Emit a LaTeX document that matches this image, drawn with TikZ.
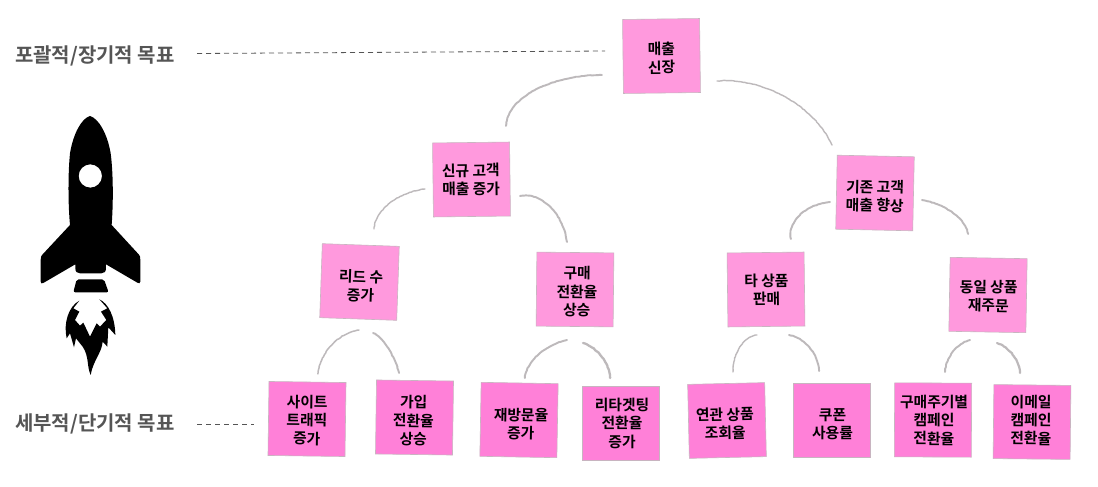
\documentclass[tikz,border=0pt]{standalone}
\usepackage{fontspec}
\setmainfont{Noto Sans CJK KR}[BoldFont={* Bold}]
\usetikzlibrary{decorations.pathmorphing,calc}
\definecolor{noteA}{HTML}{FF99DD}
\definecolor{noteB}{HTML}{FF80D8}
\definecolor{noteEdge}{HTML}{C8B4C0}
\definecolor{arcgray}{HTML}{BDB9BB}
\definecolor{labgray}{HTML}{555555}
\tikzset{
  note/.style={draw=noteEdge,line width=.6pt,inner sep=0pt,minimum width=77pt,minimum height=74pt,
    font=\fontsize{14.8}{18.3}\selectfont\bfseries,text=black},
  topnote/.style={note,fill=noteA},
  lownote/.style={note,fill=noteB},
  sketch/.style={draw=arcgray,line width=1.9pt,line cap=round,decorate,decoration={random steps,segment length=2pt,amplitude=.3pt}},
  guide/.style={draw=labgray,line width=.8pt,dash pattern=on 5pt off 4pt},
  goal/.style={font=\fontsize{20}{24}\selectfont\bfseries,text=labgray,inner sep=0pt}
}
% text of a note, moved by dx to the right and dy down from the note's centre
\newcommand\ts[3]{\hspace*{#1pt}\makebox[0pt]{\raisebox{\dimexpr-#2pt-5.7pt\relax}[0pt][0pt]{\begin{tabular}{@{}c@{}}#3\end{tabular}}}}
\newcommand\skarc[4][]{\draw[sketch,#1] #2 .. controls ($#2!.55!#3$) and ($#4!.55!#3$) .. #4;}
\begin{document}
\begin{tikzpicture}[x=1pt,y=-1pt]
\useasboundingbox (0,0) rectangle (1098,487);
\fill[white] (0,0) rectangle (1098,487);
% notes
\node[topnote,rotate=.7] (n1) at (661.5,56) {\ts{0}{2}{매출\\신장}};
\node[topnote,rotate=.7] (n2) at (471.5,179.5) {\ts{-1}{0}{신규 고객\\매출 증가}};
\node[topnote,rotate=-1.2] (n3) at (875,193) {\ts{0}{3}{기존 고객\\매출 향상}};
\node[topnote,rotate=-2] (n4) at (359.5,282) {\ts{3}{4}{리드 수\\증가}};
\node[topnote,rotate=-.6] (n5) at (575,289.5) {\ts{4}{2}{구매\\전환율\\상승}};
\node[topnote,rotate=.7] (n6) at (766,289.5) {\ts{1}{0}{타 상품\\판매}};
\node[topnote,rotate=-1] (n7) at (988,295) {\ts{1}{1}{동일 상품\\재주문}};
\node[lownote,rotate=-.8] (m1) at (307,419) {\ts{0}{1}{사이트\\트래픽\\증가}};
\node[lownote,rotate=-.8] (m2) at (414.5,417.5) {\ts{-2}{3}{가입\\전환율\\상승}};
\node[lownote,rotate=-1] (m3) at (519,420) {\ts{4}{4}{재방문율\\증가}};
\node[lownote] (m4) at (621,423) {\ts{2}{0}{리타겟팅\\전환율\\증가}};
\node[lownote,rotate=1.3] (m5) at (727,420.5) {\ts{-4}{3}{연관 상품\\조회율}};
\node[lownote] (m6) at (832,420) {\ts{1}{4}{쿠폰\\사용률}};
\node[lownote,rotate=-.3] (m7) at (933,420) {\ts{2}{0}{구매주기별\\캠페인\\전환율}};
\node[lownote,rotate=-.6] (m8) at (1032,422) {\ts{-2}{-2}{이메일\\캠페인\\전환율}};
% goal labels
\node[goal,anchor=west] (g1) at (15,56) {포괄적/장기적 목표};
\node[goal,anchor=west] (g2) at (15,423.5) {세부적/단기적 목표};
\coordinate (d1a) at (197,53.5);
\coordinate (d1b) at (605,51);
\coordinate (d2a) at (197,424.5);
\coordinate (d2b) at (254,424.5);
\draw[guide] (d1a) -- (d1b);
\draw[guide] (d2a) -- (d2b);
% sketched arcs
\skarc{(602,75)}{(508,75)}{(506,126)}
\skarc[line width=1.4pt]{(717,81)}{(800,74)}{(832,145)}
\skarc[line width=1.4pt]{(425,189)}{(376.5,194.4)}{(374,229)}
\skarc{(520,196)}{(559.3,189)}{(567,242)}
\skarc{(830,202)}{(785,207)}{(791,239)}
\skarc{(922,200)}{(964.4,207)}{(968,234)}
\skarc[line width=1.5pt]{(359,330)}{(322,335)}{(318,374)}
\skarc{(373,333)}{(390.8,340.8)}{(399,373)}
\skarc{(567,340)}{(526.5,349.3)}{(525,378)}
\skarc[line width=2.3pt]{(583,343)}{(609.2,351.3)}{(610,378)}
\skarc[line width=1.4pt]{(757,335)}{(732.9,337)}{(733,372)}
\skarc{(789,335)}{(818.4,340.8)}{(819,371)}
\skarc{(970,340)}{(946.7,345.5)}{(945,372)}
\skarc[line width=2.2pt]{(997,343)}{(1019.4,350.8)}{(1020,373)}
% rocket
\begin{scope}[shift={(0,90)},scale=.3333]
\fill[black,even odd rule] (270,78) .. controls (295,85) and (322,130) .. (332,190)
  .. controls (340,250) and (340,340) .. (335,405) -- (416,493) .. controls (420,497) and (421,500) .. (421,510)
  -- (421,575) .. controls (421,581) and (417,581) .. (412,578) -- (318,523) -- (318,535)
  .. controls (318,546) and (312,550) .. (304,550) -- (240,550) .. controls (232,550) and (226,546) .. (226,535)
  -- (226,523) -- (130,579) .. controls (124,582) and (122,580) .. (122,574) -- (122,510)
  .. controls (122,500) and (124,497) .. (128,493) -- (210,405)
  .. controls (204,340) and (204,250) .. (210,190) .. controls (220,130) and (245,85) .. (270,78) -- cycle
  (306,258) arc[start angle=0,end angle=360,radius=35];
\fill[black,rounded corners=2pt] (230,568) -- (312,568) -- (326,607) -- (220,607) -- cycle;
\fill[black] (238,632) -- (220,655) -- (238,665) -- (225,690) -- (240,707) -- (250,698) -- (270,740)
 -- (290,700) -- (300,710) -- (319,690) -- (303,665) -- (322,655) -- (298,628)
 .. controls (325,640) and (345,680) .. (346,735) -- (325,712) -- (322,770) -- (308,755)
 .. controls (305,790) and (280,810) .. (272,855) .. controls (260,830) and (268,800) .. (248,770)
 -- (228,745) -- (222,772) -- (210,730) -- (200,745) .. controls (190,700) and (205,650) .. (238,632) -- cycle;
\end{scope}
\end{tikzpicture}
\end{document}
